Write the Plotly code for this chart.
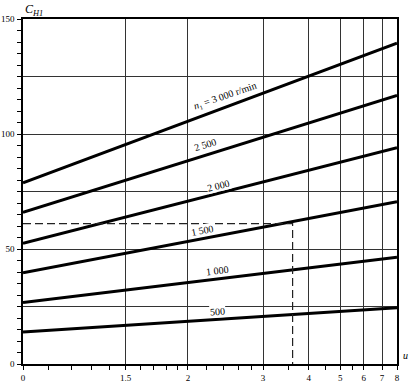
import numpy as np
import plotly.graph_objects as go

# ---- data ----
speeds = ["3000", "2500", "2000", "1500", "1000", "500"]
label_texts = ["<i>n</i>₁ = 3 000 r/min", "2 500", "2 000", "1 500", "1 000", "500"]
u_ends = [1.0, 8.0]
c_at_u1 = [78.8, 66.0, 52.5, 39.7, 26.7, 13.9]
c_at_u8 = [139.5, 116.8, 94.0, 70.6, 46.4, 24.5]

x_tick_vals = [1, 1.5, 2, 3, 4, 5, 6, 7, 8]
x_tick_text = ["0", "1.5", "2", "3", "4", "5", "6", "7", "8"]
x_minor_vals = [1.1, 1.2, 1.3, 1.4, 1.6, 1.7, 1.8, 1.9, 2.2, 2.4, 2.6, 2.8, 3.5, 4.5, 5.5]
y_tick_vals = [0, 50, 100, 150]
y_tick_text = ["0", "50", "100", "150"]
y_extra_grid = [25, 75, 125]

dash_u = 3.6
dash_c = 61.0

# chart's functional scale for u
A = 0.45
def tf(u):
    return 1.0 - np.power(np.asarray(u, dtype=float), -A)

FONT = "Liberation Serif"
fig = go.Figure()

for s, c1, c8 in zip(speeds, c_at_u1, c_at_u8):
    fig.add_trace(go.Scatter(x=tf(u_ends), y=[c1, c8], mode="lines",
                             line=dict(color="black", width=3), name=s,
                             showlegend=False, hoverinfo="skip"))

fig.add_trace(go.Scatter(x=tf([1.0, dash_u, dash_u]), y=[dash_c, dash_c, 0],
                         mode="lines", line=dict(color="#222", width=1.2, dash="8px,4px"),
                         showlegend=False, hoverinfo="skip"))

# curve labels
lab_pos = [(0.540, 0.778, -19), (0.489, 0.637, -17), (0.524, 0.518, -14),
           (0.479, 0.388, -11), (0.521, 0.272, -7), (0.519, 0.152, -4)]
for txt, (xp, yp, ang) in zip(label_texts, lab_pos):
    fig.add_annotation(text=txt, x=xp, y=yp, xref="paper", yref="paper",
                       xanchor="center", yanchor="middle",
                       showarrow=False, textangle=ang,
                       font=dict(family=FONT, size=10, color="black"),
                       bgcolor="white", borderpad=0)

fig.add_annotation(text="<i>C<sub>H1</sub></i>", x=0.0, y=1.027, xref="paper", yref="paper",
                   xanchor="left", yanchor="middle", showarrow=False,
                   font=dict(family=FONT, size=12, color="black"))
fig.add_annotation(text="<i>u</i>", x=1.012, y=0.025, xref="paper", yref="paper",
                   xanchor="left", yanchor="middle", showarrow=False,
                   font=dict(family=FONT, size=10, color="black"))

fig.update_layout(
    xaxis=dict(range=[float(tf(1)), float(tf(8))], tickmode="array",
               tickvals=list(tf(x_tick_vals)), ticktext=x_tick_text,
               showgrid=True, gridcolor="#333", gridwidth=1,
               showline=True, linecolor="black", linewidth=1.5, mirror=True,
               ticks="outside", ticklen=4, tickcolor="black",
               minor=dict(tickmode="array", tickvals=list(tf(x_minor_vals)),
                          ticks="outside", ticklen=4, tickcolor="black", showgrid=False),
               tickfont=dict(family=FONT, size=9, color="black"),
               zeroline=False, fixedrange=True, automargin=False),
    yaxis=dict(range=[0, 150], tickmode="array", tickvals=y_tick_vals, ticktext=y_tick_text,
               showgrid=True, gridcolor="#333", gridwidth=1,
               showline=True, linecolor="black", linewidth=1.5, mirror=True,
               ticks="outside", ticklen=4, tickcolor="black",
               minor=dict(dtick=5, ticks="outside", ticklen=4, tickcolor="black", showgrid=False),
               tickfont=dict(family=FONT, size=9, color="black"), ticklabelstandoff=1,
               zeroline=False, fixedrange=True, automargin=False),
    yaxis2=dict(range=[0, 150], overlaying="y", tickmode="array", tickvals=y_extra_grid,
                showticklabels=False, ticks="", showgrid=True, gridcolor="#333", gridwidth=1,
                zeroline=False, fixedrange=True, automargin=False, showline=False),
    width=409, height=385, margin=dict(l=23, r=12, t=19, b=21),
    plot_bgcolor="white", paper_bgcolor="white", showlegend=False)

# invisible trace to activate the grid-only axis
fig.add_trace(go.Scatter(x=[float(tf(1))], y=[0], yaxis="y2", mode="markers",
                         marker=dict(opacity=0), showlegend=False, hoverinfo="skip"))

fig.write_html("out.html", config={"displayModeBar": False},
               post_script="document.body.style.margin='0';")
